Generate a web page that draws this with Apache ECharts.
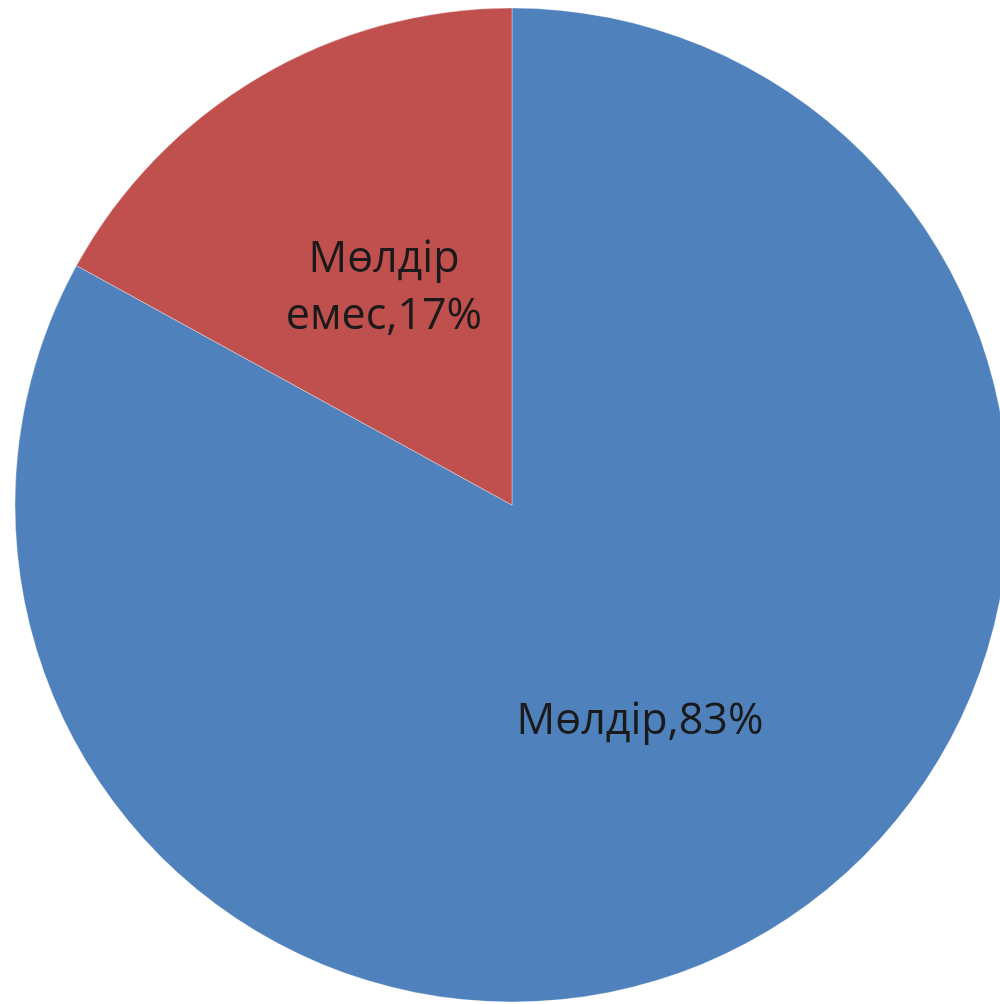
<!DOCTYPE html>
<html>
<head>
<meta charset="utf-8">
<script src="https://cdn.jsdelivr.net/npm/echarts@6/dist/echarts.min.js"></script>
<style>
html,body{margin:0;padding:0;background:#fff;}
#chart{width:1000px;height:1004px;}
</style>
</head>
<body>
<div id="chart"></div>
<script>
const categories = ['Мөлдір', 'Мөлдір\nемес'];
const values = [83, 17];
const colors = ['#4F81BD', '#C0504D'];
const labelPadTop = [10, 20];

const chart = echarts.init(document.getElementById('chart'), null, {renderer: 'canvas'});
chart.setOption({
  backgroundColor: '#ffffff',
  animation: false,
  series: [{
    type: 'pie',
    center: [512, 505],
    radius: [0, 497],
    startAngle: 90,
    clockwise: true,
    data: categories.map((c, i) => ({
      name: c, value: values[i],
      itemStyle: {color: colors[i]},
      label: {padding: [labelPadTop[i], 0, 0, 0]}
    })),
    itemStyle: {borderColor: 'rgba(255,255,255,0.35)', borderWidth: 1},
    label: {
      show: true,
      position: 'inner',
      formatter: p => p.name + ',' + p.value + '%',
      fontFamily: 'Open Sans',
      fontSize: 43,
      color: '#1a1a1a',
      lineHeight: 57,
      align: 'center',
      backgroundColor: 'rgba(0,0,0,0)'
    },
    labelLine: {show: false},
    emphasis: {disabled: true}
  }]
});
</script>
</body>
</html>
